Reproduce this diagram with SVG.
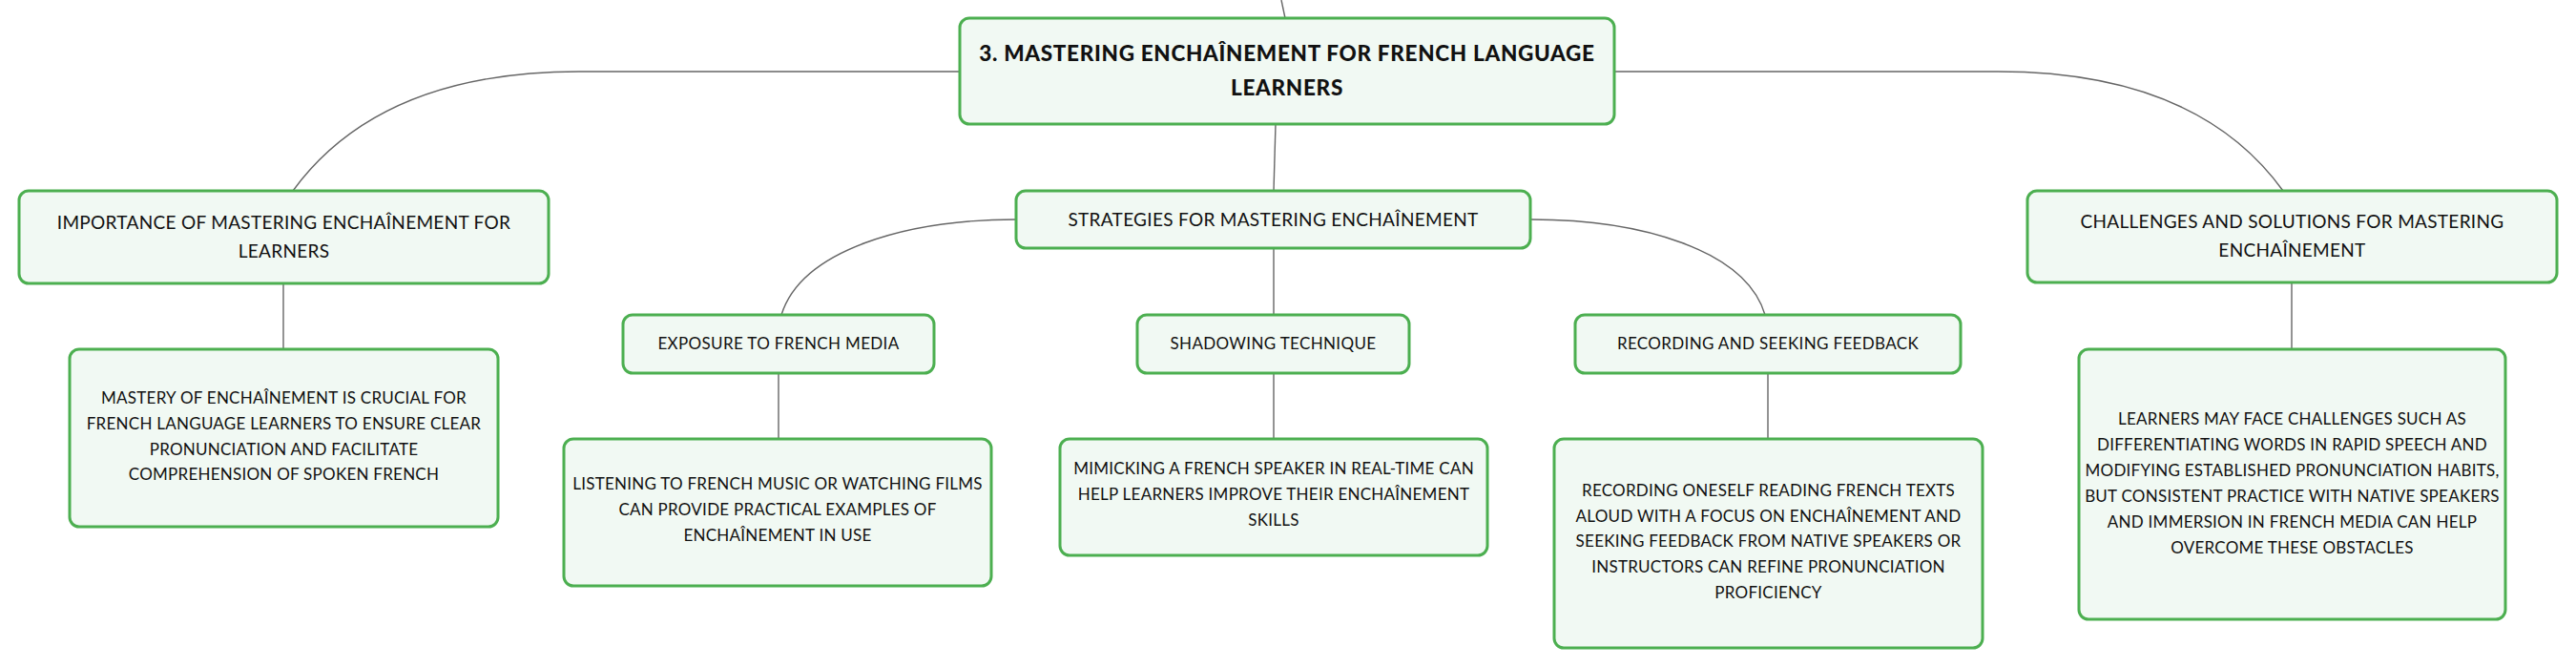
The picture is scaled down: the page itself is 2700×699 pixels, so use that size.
<svg xmlns="http://www.w3.org/2000/svg" width="2700" height="699" viewBox="0 0 2700 699">
<style>
.box{fill:#f1f9f3;stroke:#4caf50;stroke-width:3}
.t{font-family:Lato,"Noto Sans","Liberation Sans",sans-serif;fill:#111;text-anchor:middle}
.root{font-size:22.5px;font-weight:900;letter-spacing:0.7px}
.l1{font-size:19px;letter-spacing:0.3px}
.l2{font-size:17px;letter-spacing:0.35px}
.l3{font-size:17px;letter-spacing:0.25px}
.c{fill:none;stroke:#666;stroke-width:1.4}
</style>
<rect width="2700" height="699" fill="#fff"/>
<g id="connectors">
<path class="c" d="M1343 0 L1347 19"/>
<path class="c" d="M1006 75 L607 75 C500 75 380 100 307 200"/>
<path class="c" d="M1337 130 L1335 200"/>
<path class="c" d="M1692 75 L2094 75 C2201 75 2321 100 2393 200"/>
<path class="c" d="M297 297 L297 366"/>
<path class="c" d="M1065 230 C950 230 840 262 819 330"/>
<path class="c" d="M1335 260 L1335 330"/>
<path class="c" d="M1605 230 C1720 230 1830 262 1850 330"/>
<path class="c" d="M816 391 L816 460"/>
<path class="c" d="M1335 391 L1335 460"/>
<path class="c" d="M1853 391 L1853 460"/>
<path class="c" d="M2402 296 L2402 366"/>
</g>
<g id="root">
<rect class="box" x="1006" y="19" width="686" height="111" rx="10"/>
<text class="t root" x="1349" y="64">3. MASTERING ENCHAÎNEMENT FOR FRENCH LANGUAGE</text>
<text class="t root" x="1349" y="100">LEARNERS</text>
</g>
<g id="importance">
<rect class="box" x="20" y="200" width="555" height="97" rx="10"/>
<text class="t l1" x="297.5" y="240">IMPORTANCE OF MASTERING ENCHAÎNEMENT FOR</text>
<text class="t l1" x="297.5" y="270">LEARNERS</text>
</g>
<g id="strategies">
<rect class="box" x="1065" y="200" width="539" height="60" rx="10"/>
<text class="t l1" x="1334.5" y="237">STRATEGIES FOR MASTERING ENCHAÎNEMENT</text>
</g>
<g id="challenges">
<rect class="box" x="2125" y="200" width="555" height="96" rx="10"/>
<text class="t l1" x="2402.5" y="239">CHALLENGES AND SOLUTIONS FOR MASTERING</text>
<text class="t l1" x="2402.5" y="269">ENCHAÎNEMENT</text>
</g>
<g id="exposure">
<rect class="box" x="653" y="330" width="326" height="61" rx="10"/>
<text class="t l2" x="816" y="366">EXPOSURE TO FRENCH MEDIA</text>
</g>
<g id="shadowing">
<rect class="box" x="1192" y="330" width="285" height="61" rx="10"/>
<text class="t l2" x="1334.5" y="366">SHADOWING TECHNIQUE</text>
</g>
<g id="recording">
<rect class="box" x="1651" y="330" width="404" height="61" rx="10"/>
<text class="t l2" x="1853" y="366">RECORDING AND SEEKING FEEDBACK</text>
</g>
<g id="mastery">
<rect class="box" x="73" y="366" width="449" height="186" rx="10"/>
<text class="t l3" x="297.5" y="423">MASTERY OF ENCHAÎNEMENT IS CRUCIAL FOR</text>
<text class="t l3" x="297.5" y="450">FRENCH LANGUAGE LEARNERS TO ENSURE CLEAR</text>
<text class="t l3" x="297.5" y="477">PRONUNCIATION AND FACILITATE</text>
<text class="t l3" x="297.5" y="503">COMPREHENSION OF SPOKEN FRENCH</text>
</g>
<g id="listening">
<rect class="box" x="591" y="460" width="448" height="154" rx="10"/>
<text class="t l3" x="815" y="513">LISTENING TO FRENCH MUSIC OR WATCHING FILMS</text>
<text class="t l3" x="815" y="540">CAN PROVIDE PRACTICAL EXAMPLES OF</text>
<text class="t l3" x="815" y="567">ENCHAÎNEMENT IN USE</text>
</g>
<g id="mimicking">
<rect class="box" x="1111" y="460" width="448" height="122" rx="10"/>
<text class="t l3" x="1335" y="497">MIMICKING A FRENCH SPEAKER IN REAL-TIME CAN</text>
<text class="t l3" x="1335" y="524">HELP LEARNERS IMPROVE THEIR ENCHAÎNEMENT</text>
<text class="t l3" x="1335" y="551">SKILLS</text>
</g>
<g id="feedback">
<rect class="box" x="1629" y="460" width="449" height="219" rx="10"/>
<text class="t l3" x="1853.5" y="520">RECORDING ONESELF READING FRENCH TEXTS</text>
<text class="t l3" x="1853.5" y="547">ALOUD WITH A FOCUS ON ENCHAÎNEMENT AND</text>
<text class="t l3" x="1853.5" y="573">SEEKING FEEDBACK FROM NATIVE SPEAKERS OR</text>
<text class="t l3" x="1853.5" y="600">INSTRUCTORS CAN REFINE PRONUNCIATION</text>
<text class="t l3" x="1853.5" y="627">PROFICIENCY</text>
</g>
<g id="obstacles">
<rect class="box" x="2179" y="366" width="447" height="283" rx="10"/>
<text class="t l3" x="2402.5" y="445">LEARNERS MAY FACE CHALLENGES SUCH AS</text>
<text class="t l3" x="2402.5" y="472">DIFFERENTIATING WORDS IN RAPID SPEECH AND</text>
<text class="t l3" x="2402.5" y="499">MODIFYING ESTABLISHED PRONUNCIATION HABITS,</text>
<text class="t l3" x="2402.5" y="526">BUT CONSISTENT PRACTICE WITH NATIVE SPEAKERS</text>
<text class="t l3" x="2402.5" y="553">AND IMMERSION IN FRENCH MEDIA CAN HELP</text>
<text class="t l3" x="2402.5" y="580">OVERCOME THESE OBSTACLES</text>
</g>
</svg>
